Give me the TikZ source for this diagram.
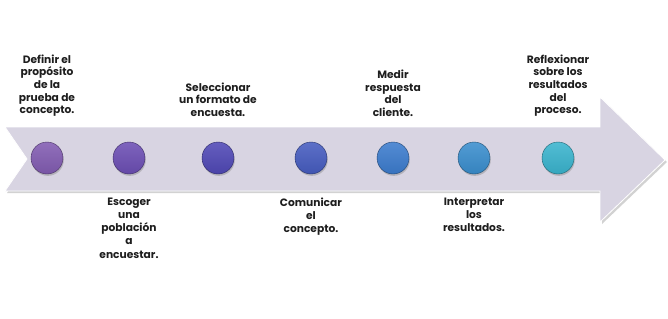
\documentclass[tikz,border=0pt]{standalone}
\usepackage{fontspec}
\setmainfont{Poppins}
\usetikzlibrary{shadows}
\definecolor{arrowfill}{RGB}{216,212,226}
\definecolor{cA}{RGB}{130,92,178}
\definecolor{cB}{RGB}{108,78,180}
\definecolor{cC}{RGB}{80,72,182}
\definecolor{cD}{RGB}{70,92,192}
\definecolor{cE}{RGB}{60,124,206}
\definecolor{cF}{RGB}{58,142,206}
\definecolor{cG}{RGB}{58,180,206}
\definecolor{txt}{RGB}{30,30,30}
\tikzset{
  dot/.style={circle, minimum size=24pt, inner sep=0pt, draw=#1!55!black, line width=0.3pt,
    top color=#1!88!white, bottom color=#1!92!black,
    drop shadow={shadow xshift=0.6pt, shadow yshift=-1.4pt, opacity=0.4}},
  toplabel/.style={anchor=south, align=center, font=\fontsize{8}{9.5}\selectfont\bfseries, text=txt, inner sep=0pt},
  botlabel/.style={anchor=north, align=center, font=\fontsize{8}{9.8}\selectfont\bfseries, text=txt, inner sep=0pt},
}
\begin{document}
\begin{tikzpicture}[x=0.75pt, y=-0.75pt]
\useasboundingbox (0,0) rectangle (668,318);
\fill[white] (0,0) rectangle (668,318);
% arrow
\draw[fill=arrowfill, draw=white, line width=0.6pt, drop shadow={shadow xshift=1.5pt, shadow yshift=-1.5pt, opacity=0.35}]
  (5,127) -- (600,127) -- (600,97) -- (665,160) -- (600,222) -- (600,191) -- (5,191) -- (27,159) -- cycle;
% circles
\node[dot=cA] (d1) at (47,158) {};
\node[dot=cB] (d2) at (129,158) {};
\node[dot=cC] (d3) at (218,158) {};
\node[dot=cD] (d4) at (311,158) {};
\node[dot=cE] (d5) at (393,158) {};
\node[dot=cF] (d6) at (474,158) {};
\node[dot=cG] (d7) at (558,158) {};
% labels
\node[toplabel] (t1) at (47,117) {Definir el\\propósito\\de la\\prueba de\\concepto.};
\node[botlabel] (t2) at (129,198) {Escoger\\una\\población\\a\\encuestar.};
\node[toplabel] (t3) at (218,117) {Seleccionar\\un formato de\\encuesta.};
\node[botlabel] (t4) at (311,198) {Comunicar\\el\\concepto.};
\node[toplabel] (t5) at (393,117) {Medir\\respuesta\\del\\cliente.};
\node[botlabel] (t6) at (474,198) {Interpretar\\los\\resultados.};
\node[toplabel] (t7) at (558,117) {Reflexionar\\sobre los\\resultados\\del\\proceso.};
\end{tikzpicture}
\end{document}
